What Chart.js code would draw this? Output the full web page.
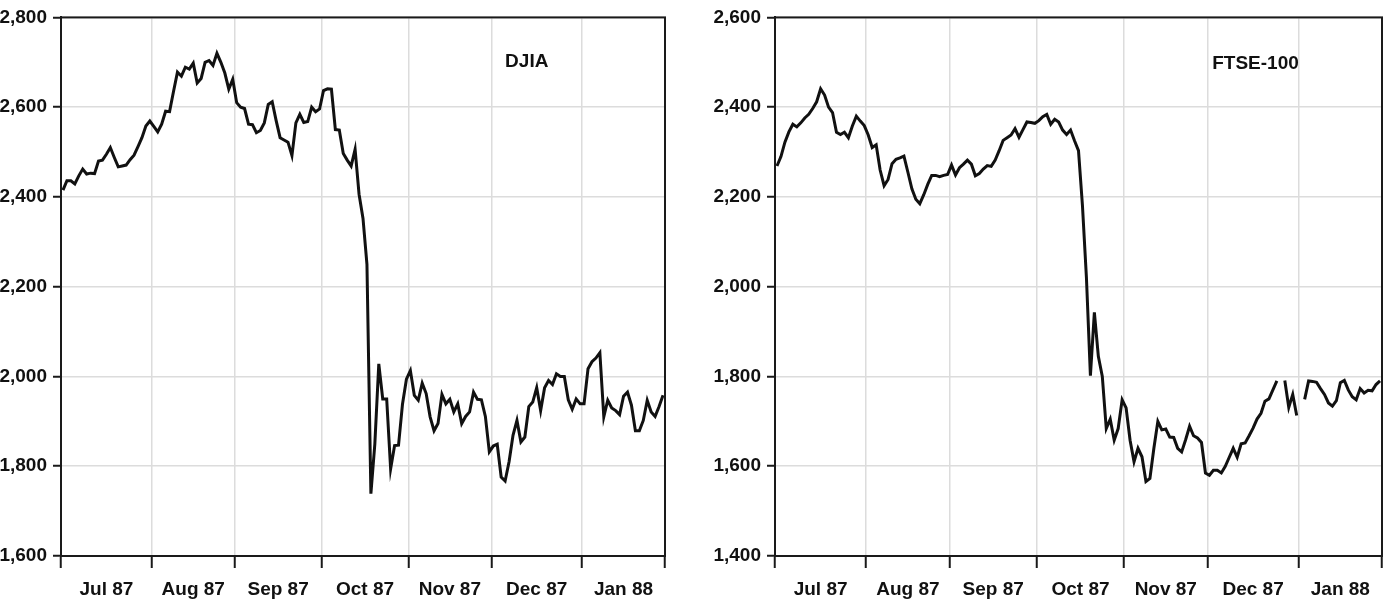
<!DOCTYPE html>
<html>
<head>
<meta charset="utf-8">
<script src="https://cdn.jsdelivr.net/npm/chart.js@4.4.1/dist/chart.umd.min.js"></script>
<style>
  body { margin: 0; background: #fff; }
  .panel { position: absolute; top: 0; width: 692px; height: 609px; }
</style>
</head>
<body>
<div class="panel" style="left:0"><canvas id="djiaChart" width="692" height="609"></canvas></div>
<div class="panel" style="left:692px"><canvas id="ftseChart" width="692" height="609"></canvas></div>
<script>
// months on the x axis and how many weekdays each one holds
const monthLabels = ['Jul 87', 'Aug 87', 'Sep 87', 'Oct 87', 'Nov 87', 'Dec 87', 'Jan 88'];
const monthDays = [23, 21, 22, 22, 21, 23, 21];

// DJIA daily close, Jul 1987 - Jan 1988 (weekdays)
const djia = [
    2415, 2436, 2436, 2429, 2447, 2462, 2451, 2453, 2452, 2480, 2482, 2495, 2510, 2488, 2467, 2469, 2471, 2483, 2493, 2512, 2532, 2558, 2569,
    2557, 2545, 2562, 2591, 2590, 2635, 2678, 2669, 2689, 2685, 2698, 2654, 2664, 2700, 2704, 2693, 2720, 2700, 2676, 2640, 2662,
    2610, 2600, 2597, 2562, 2561, 2543, 2548, 2565, 2606, 2612, 2570, 2532, 2527, 2522, 2492, 2565, 2584, 2566, 2568, 2600, 2590, 2596,
    2637, 2641, 2640, 2550, 2549, 2497, 2482, 2469, 2506, 2406, 2352, 2250, 1739, 1850, 2028, 1950, 1950, 1794, 1846, 1847, 1938, 1994,
    2013, 1958, 1947, 1985, 1962, 1910, 1879, 1895, 1960, 1939, 1949, 1921, 1939, 1895, 1911, 1921, 1965, 1949, 1948, 1911, 1832,
    1845, 1849, 1776, 1767, 1810, 1869, 1902, 1854, 1865, 1933, 1943, 1975, 1924, 1975, 1991, 1982, 2006, 2000, 2000, 1948, 1927, 1950, 1939,
    1939, 2017, 2033, 2041, 2053, 1910, 1947, 1930, 1924, 1915, 1956, 1965, 1936, 1879, 1879, 1902, 1947, 1921, 1911, 1933, 1958
];

// FTSE-100 daily close, same weekdays (null = UK holiday)
const ftse = [
    2269, 2290, 2322, 2345, 2362, 2356, 2365, 2376, 2384, 2397, 2412, 2441, 2427, 2400, 2388, 2344, 2339, 2344, 2332, 2358, 2380, 2369, 2359,
    2338, 2310, 2316, 2260, 2225, 2239, 2274, 2284, 2287, 2291, 2255, 2218, 2195, 2185, 2205, 2228, 2248, 2248, 2245, 2248, 2250,
    2271, 2249, 2265, 2273, 2282, 2273, 2247, 2252, 2262, 2270, 2268, 2282, 2303, 2326, 2332, 2338, 2352, 2333, 2350, 2367, 2366, 2364,
    2370, 2379, 2384, 2362, 2373, 2367, 2349, 2339, 2349, 2325, 2303, 2180, 2020, 1802, 1943, 1845, 1800, 1684, 1705, 1658, 1684, 1748,
    1730, 1658, 1610, 1640, 1621, 1566, 1573, 1640, 1700, 1681, 1683, 1665, 1664, 1640, 1632, 1659, 1689, 1668, 1663, 1653, 1585,
    1580, 1591, 1591, 1585, 1600, 1620, 1640, 1620, 1650, 1652, 1668, 1685, 1705, 1718, 1745, 1750, 1770, 1790, null, 1791, 1731, 1760, 1713,
    null, 1749, 1790, 1789, 1787, 1773, 1760, 1741, 1734, 1746, 1786, 1791, 1770, 1755, 1748, 1773, 1763, 1769, 1768, 1782, 1790
];

const djiaRange = [1600, 2800];
const ftseRange = [1400, 2600];

const fontFamily = '"Liberation Sans", Arial, sans-serif';

// month boundaries (tick marks + grid) and month middles (labels)
const monthStarts = [0];
monthDays.forEach(d => monthStarts.push(monthStarts[monthStarts.length - 1] + d));
const monthMids = monthLabels.map((m, i) => (monthStarts[i] + monthStarts[i + 1]) / 2);

// box round the plot and the series name inside it
const frameAndTitle = {
    id: 'frameAndTitle',
    afterDatasetsDraw(chart, args, opts) {
        const { ctx, chartArea: a, scales } = chart;
        ctx.save();
        ctx.strokeStyle = '#1a1a1a';
        ctx.lineWidth = 2;
        ctx.strokeRect(a.left, a.top, a.right - a.left, a.bottom - a.top);
        ctx.font = 'bold 19px ' + fontFamily;
        ctx.fillStyle = '#111';
        ctx.textBaseline = 'middle';
        ctx.fillText(opts.text, scales.x.getPixelForValue(opts.x), scales.y.getPixelForValue(opts.y));
        ctx.restore();
    }
};

function makeChart(canvasId, values, range, axisWidth, padRight, title) {
    const points = values.map((v, i) => ({ x: i + 0.5, y: v }));

    return new Chart(document.getElementById(canvasId), {
        type: 'line',
        data: {
            datasets: [{
                data: points,
                borderColor: '#111',
                borderWidth: 3,
                pointRadius: 0,
                tension: 0,
                spanGaps: false
            }]
        },
        options: {
            responsive: false,
            animation: false,
            layout: { padding: { top: 16, right: padRight, bottom: 0, left: 0 } },
            plugins: {
                legend: { display: false },
                tooltip: { enabled: false },
                frameAndTitle: title
            },
            scales: {
                x: {
                    type: 'linear',
                    min: 0,
                    max: monthStarts[monthStarts.length - 1],
                    afterBuildTicks: scale => {
                        const all = monthStarts.concat(monthMids).sort((a, b) => a - b);
                        scale.ticks = all.map(v => ({ value: v }));
                    },
                    afterFit: scale => {
                        scale.height = 53;
                        scale.paddingLeft = 0;
                        scale.paddingRight = 0;
                    },
                    ticks: {
                        autoSkip: false,
                        maxRotation: 0,
                        padding: 10,
                        color: '#111',
                        font: { family: fontFamily, size: 19, weight: 'bold' },
                        callback: value => {
                            const k = monthMids.indexOf(value);
                            return k >= 0 ? monthLabels[k] : '';
                        }
                    },
                    grid: {
                        color: c => monthStarts.includes(c.tick.value) ? '#dcdcdc' : 'rgba(0,0,0,0)',
                        tickColor: c => monthStarts.includes(c.tick.value) ? '#1a1a1a' : 'rgba(0,0,0,0)',
                        lineWidth: 1.5,
                        tickWidth: 2,
                        tickLength: 12
                    },
                    border: { color: '#1a1a1a', width: 2 }
                },
                y: {
                    min: range[0],
                    max: range[1],
                    afterFit: scale => { scale.width = axisWidth; },
                    ticks: {
                        stepSize: 200,
                        padding: 6,
                        color: '#111',
                        font: { family: fontFamily, size: 19, weight: 'bold' },
                        callback: v => v.toLocaleString('en-US')
                    },
                    grid: {
                        color: '#dcdcdc',
                        lineWidth: 1.5,
                        tickColor: '#1a1a1a',
                        tickWidth: 2,
                        tickLength: 8
                    },
                    border: { color: '#1a1a1a', width: 2 }
                }
            }
        },
        plugins: [frameAndTitle]
    });
}

makeChart('djiaChart', djia, djiaRange, 61, 27, { text: 'DJIA', x: 112.5, y: 2702 });
makeChart('ftseChart', ftse, ftseRange, 83, 2, { text: 'FTSE-100', x: 110.2, y: 2496 });
</script>
</body>
</html>
